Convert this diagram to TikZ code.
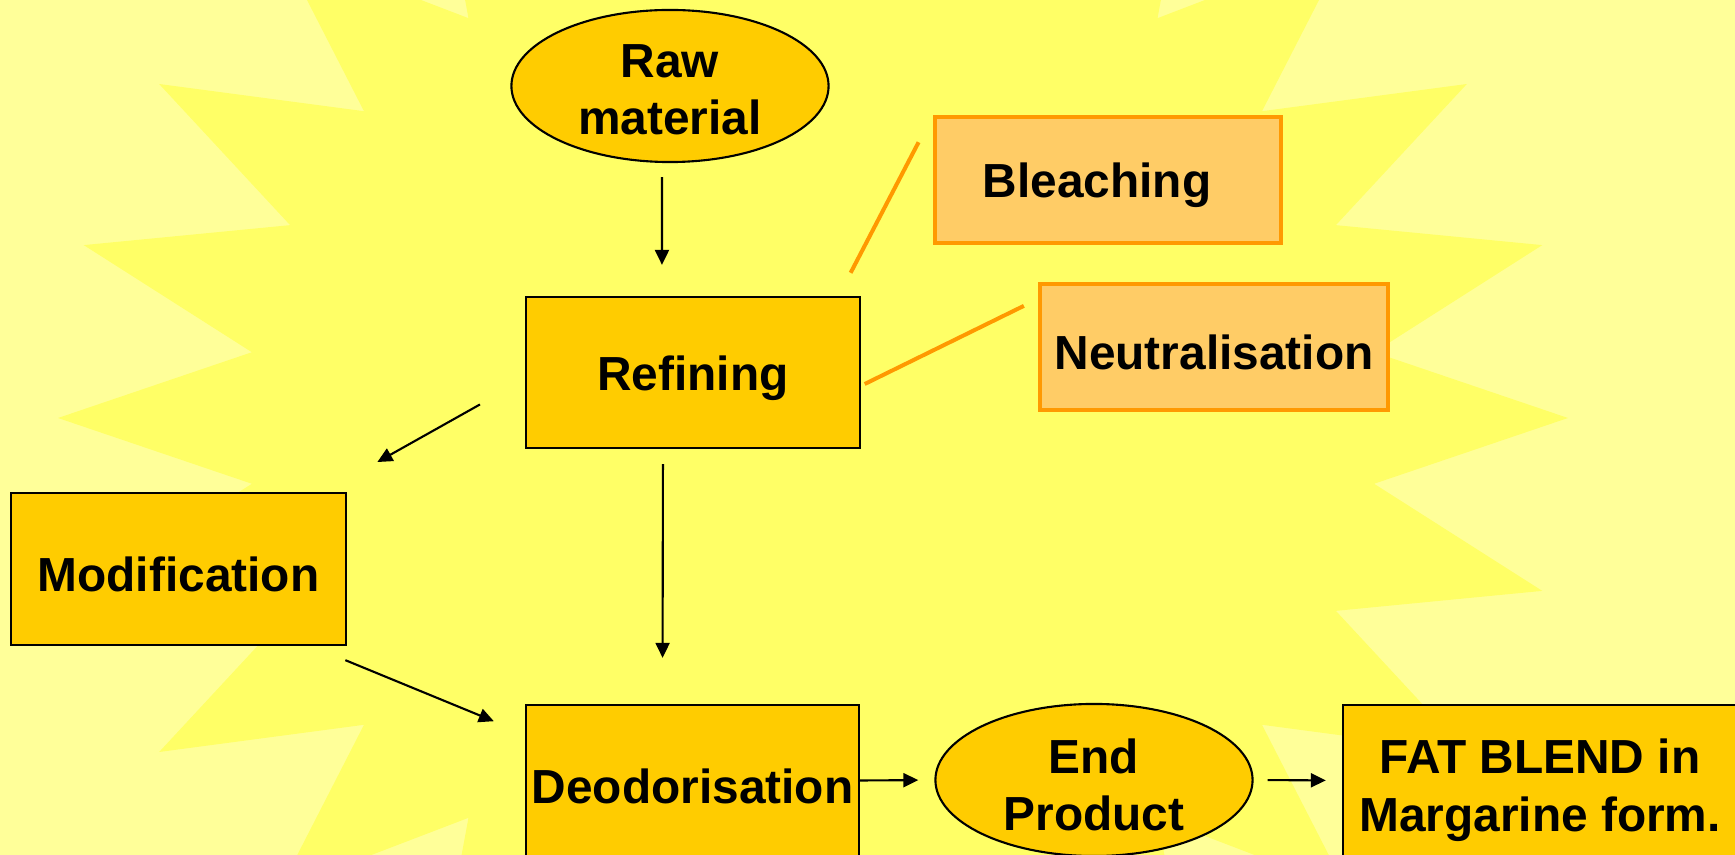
\documentclass[tikz,border=0pt]{standalone}
\usepackage{fontspec}
\setmainfont{Liberation Sans}
\usetikzlibrary{arrows.meta}
\usetikzlibrary{shapes.geometric}

\definecolor{paleyellow}{HTML}{FFFF99}
\definecolor{staryellow}{HTML}{FFFF66}
\definecolor{gold}{HTML}{FFCC00}
\definecolor{peach}{HTML}{FFCC66}
\definecolor{tangerine}{HTML}{FF9900}

\newcommand{\twolines}[3]{\raisebox{-#3}[0.5cm][0.5cm]{\begin{tabular}{@{}c@{}}#1\\#2\end{tabular}}}

\begin{document}
\begin{tikzpicture}
          [x=0.01cm, y=-0.01cm,
           every node/.style={font=\bfseries\fontsize{13.6}{16.4}\selectfont, align=center, inner sep=0pt,
             execute at begin node=\rule{0pt}{0.46cm}},
           stepbox/.style={draw, fill=gold, line width=0.6pt, rectangle, minimum width=3.33cm, minimum height=1.51cm},
           oval/.style={draw, fill=gold, line width=0.6pt, ellipse, minimum width=3.17cm, minimum height=1.52cm},
           sidebox/.style={draw=tangerine, fill=peach, line width=0.045cm, rectangle, minimum height=1.26cm},
           flow/.style={-{Triangle[length=0.15cm, width=0.14cm]}, line width=0.6pt},
           tie/.style={draw=tangerine, line width=0.04cm}]
          \clip (0,0) rectangle (1735,855);
          \fill[paleyellow] (0,0) rectangle (1735,855);
          \fill[staryellow] (1568,418) \foreach \a in {0,15,...,345} {
            -- ({813+755*cos(\a)},{418-668*sin(\a)})
            -- ({813+566*cos(\a+7.5)},{418-504*sin(\a+7.5)}) } -- cycle;

          \node (raw) [oval] at (670,86) {\twolines{Raw}{material}{6pt}};
          \node (refine) [stepbox] at (693,372.5) {Refining};
          \node (bleach) [sidebox, minimum width=3.455cm] at (1108,180) {Bleaching\hspace*{0.22cm}};
          \node (neutral) [sidebox, minimum width=3.475cm] at (1214,347) {Neutralisation};
          \node (modif) [stepbox, minimum width=3.35cm, minimum height=1.52cm] at (178.5,569) {Modification};
          \node (deodor) [stepbox] at (692.5,780.5) {Deodorisation};
          \node (endprod) [oval] at (1094,780) {\twolines{End}{Product}{6.6pt}};
          \node (fatblend) [stepbox, minimum width=3.94cm] at (1540,780.5) {\twolines{FAT BLEND in}{Margarine form.}{6.6pt}};

          \draw[flow, shorten <=0.14cm, shorten >=0.31cm] ([xshift=-0.08cm]raw.south) -- ([xshift=-0.31cm]refine.north);
          \draw[flow, shorten <=0.15cm, shorten >=0.46cm] ([xshift=-0.3cm]refine.south) -- ([xshift=-0.3cm]deodor.north);
          \draw[flow, shorten <=0.52cm, shorten >=0.61cm] ([yshift=-0.065cm]refine.west) -- ([xshift=-0.23cm]modif.north east);
          \draw[flow, shorten <=0.37cm, shorten >=0.335cm] ([xshift=-0.36cm]modif.south east) -- ([yshift=0.465cm]deodor.west);
          \draw[flow, shorten >=0.16cm] (deodor.east) -- (endprod.west);
          \draw[flow, shorten <=0.14cm, shorten >=0.16cm] (endprod.east) -- (fatblend.west);

          \draw[tie, shorten <=0.31cm, shorten >=0.26cm] (bleach.north west) -- ([xshift=-0.22cm]refine.north east);
          \draw[tie, shorten <=0.156cm, shorten >=0.045cm] ([yshift=0.48cm]neutral.west) -- ([yshift=-0.135cm]refine.east);

        \end{tikzpicture}
\end{document}
